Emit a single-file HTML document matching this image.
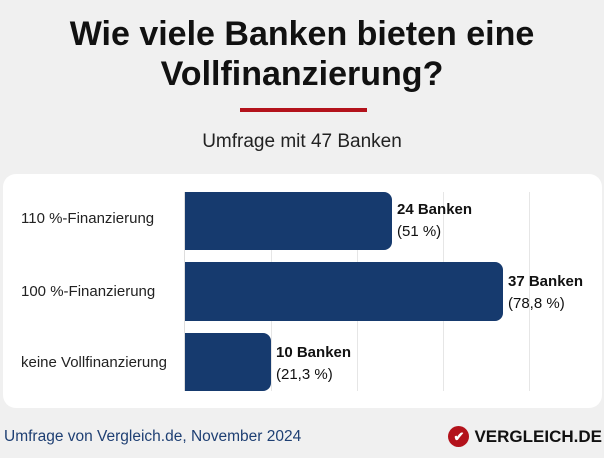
<!DOCTYPE html>
<html><head><meta charset="utf-8"><style>
body{margin:0;width:604px;height:458px;background:#f0f0f0;font-family:"Liberation Sans",sans-serif;position:relative;overflow:hidden}
.t{position:absolute;left:0;width:604px;text-align:center;font-weight:bold;font-size:34px;color:#111;line-height:40px;top:14px}
.red{position:absolute;left:240px;top:108px;width:127px;height:4px;background:#b3121b}
.sub{position:absolute;left:0;width:604px;text-align:center;top:131px;font-size:19px;color:#222}
.card{position:absolute;left:3px;top:174px;width:599px;height:234px;background:#fff;border-radius:13px}
.g{position:absolute;top:192px;height:199px;width:1px;background:#e6e6e6}
.bar{position:absolute;left:185px;background:#163a6e;border-radius:0 8px 8px 0}
.lab{position:absolute;left:21px;font-size:15px;color:#222}
.v{position:absolute;font-size:15px;color:#111;line-height:22px}
.v b{display:block}
.f{position:absolute;left:4px;top:428px;font-size:15.5px;color:#1e3f73}
.logo{position:absolute;right:2px;top:426px;font-size:17px;font-weight:bold;color:#111;display:flex;align-items:center;gap:5px}
.ic{width:21px;height:21px;border-radius:50%;background:#b3121b;color:#fff;font-size:13px;text-align:center;line-height:21px}
</style></head><body>
<div class="t">Wie viele Banken bieten eine<br>Vollfinanzierung?</div>
<div class="red"></div>
<div class="sub">Umfrage mit 47 Banken</div>
<div class="card"></div>
<div class="g" style="left:271px"></div><div class="g" style="left:357px"></div><div class="g" style="left:443px"></div><div class="g" style="left:529px"></div>
<div style="position:absolute;left:184px;top:192px;width:1px;height:199px;background:#ddd"></div>
<div class="bar" style="top:192px;height:58px;width:207px"></div>
<div class="bar" style="top:262px;height:59px;width:318px"></div>
<div class="bar" style="top:333px;height:58px;width:86px"></div>
<div class="lab" style="top:210px">110 %-Finanzierung</div>
<div class="lab" style="top:283px">100 %-Finanzierung</div>
<div class="lab" style="top:354px">keine Vollfinanzierung</div>
<div class="v" style="left:397px;top:199px"><b>24 Banken</b>(51 %)</div>
<div class="v" style="left:508px;top:271px"><b>37 Banken</b>(78,8 %)</div>
<div class="v" style="left:276px;top:342px"><b>10 Banken</b>(21,3 %)</div>
<div class="f">Umfrage von Vergleich.de, November 2024</div>
<div class="logo"><div class="ic">✔</div><span>VERGLEICH.DE</span></div>
</body></html>
